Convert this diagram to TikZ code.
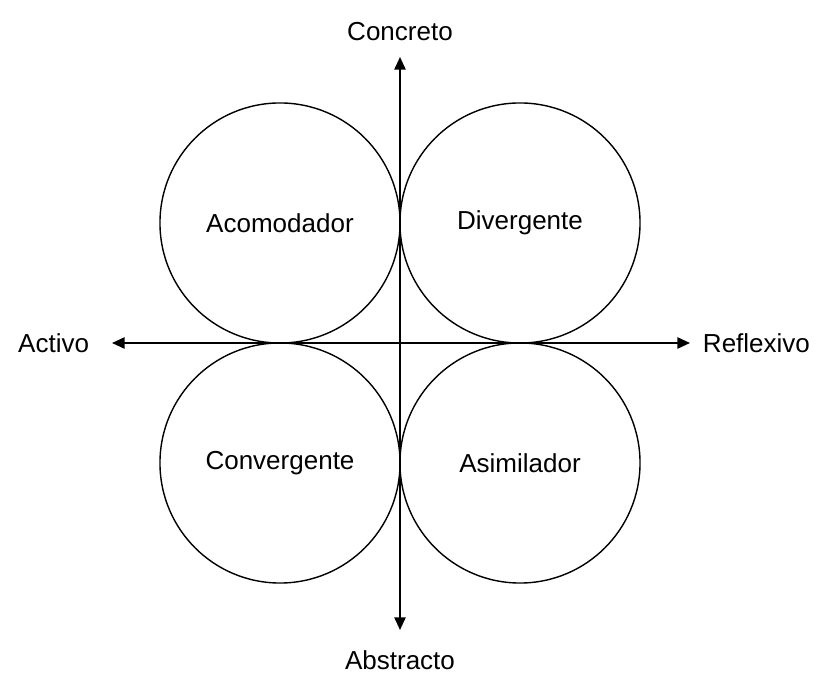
\documentclass[tikz,border=0pt]{standalone}
\usepackage{fontspec}
\setmainfont{Liberation Sans}
\usetikzlibrary{positioning, arrows.meta}

\begin{document}
\begin{tikzpicture}[x=0.025cm, y=0.025cm,
        every node/.style={font=\fontsize{18.5}{22}\selectfont},
        estilo/.style={circle, draw, line width=1pt, minimum size=6cm, inner sep=0pt},
        eje/.style={line width=1.3pt, {Triangle[length=9pt,width=8pt]}-{Triangle[length=9pt,width=8pt]}}]
                \useasboundingbox (-400,-332) rectangle (419,343);

                % styles of learning
                \node[estilo] (A) at (-120,120) {Acomodador};
                \node[estilo] (D) at (120,120) {Divergente};
                \node[estilo] (C) at (-120,-120) {Convergente};
                \node[estilo] (S) at (120,-120) {Asimilador};

                % ends of the axes
                \coordinate (arriba) at (0,286);
                \coordinate (abajo) at (0,-287);
                \coordinate (izq) at (-288,0);
                \coordinate (der) at (290,0);

                \draw[eje] (arriba) -- (abajo);
                \draw[eje] (izq) -- (der);

                \node (concreto) [above=0.28cm of arriba] {Concreto};
                \node (abstracto) [below=0.38cm of abajo] {Abstracto};
                \node (activo) [left=0.45cm of izq] {Activo};
                \node (reflexivo) [right=0.2cm of der] {Reflexivo};
        \end{tikzpicture}
\end{document}
